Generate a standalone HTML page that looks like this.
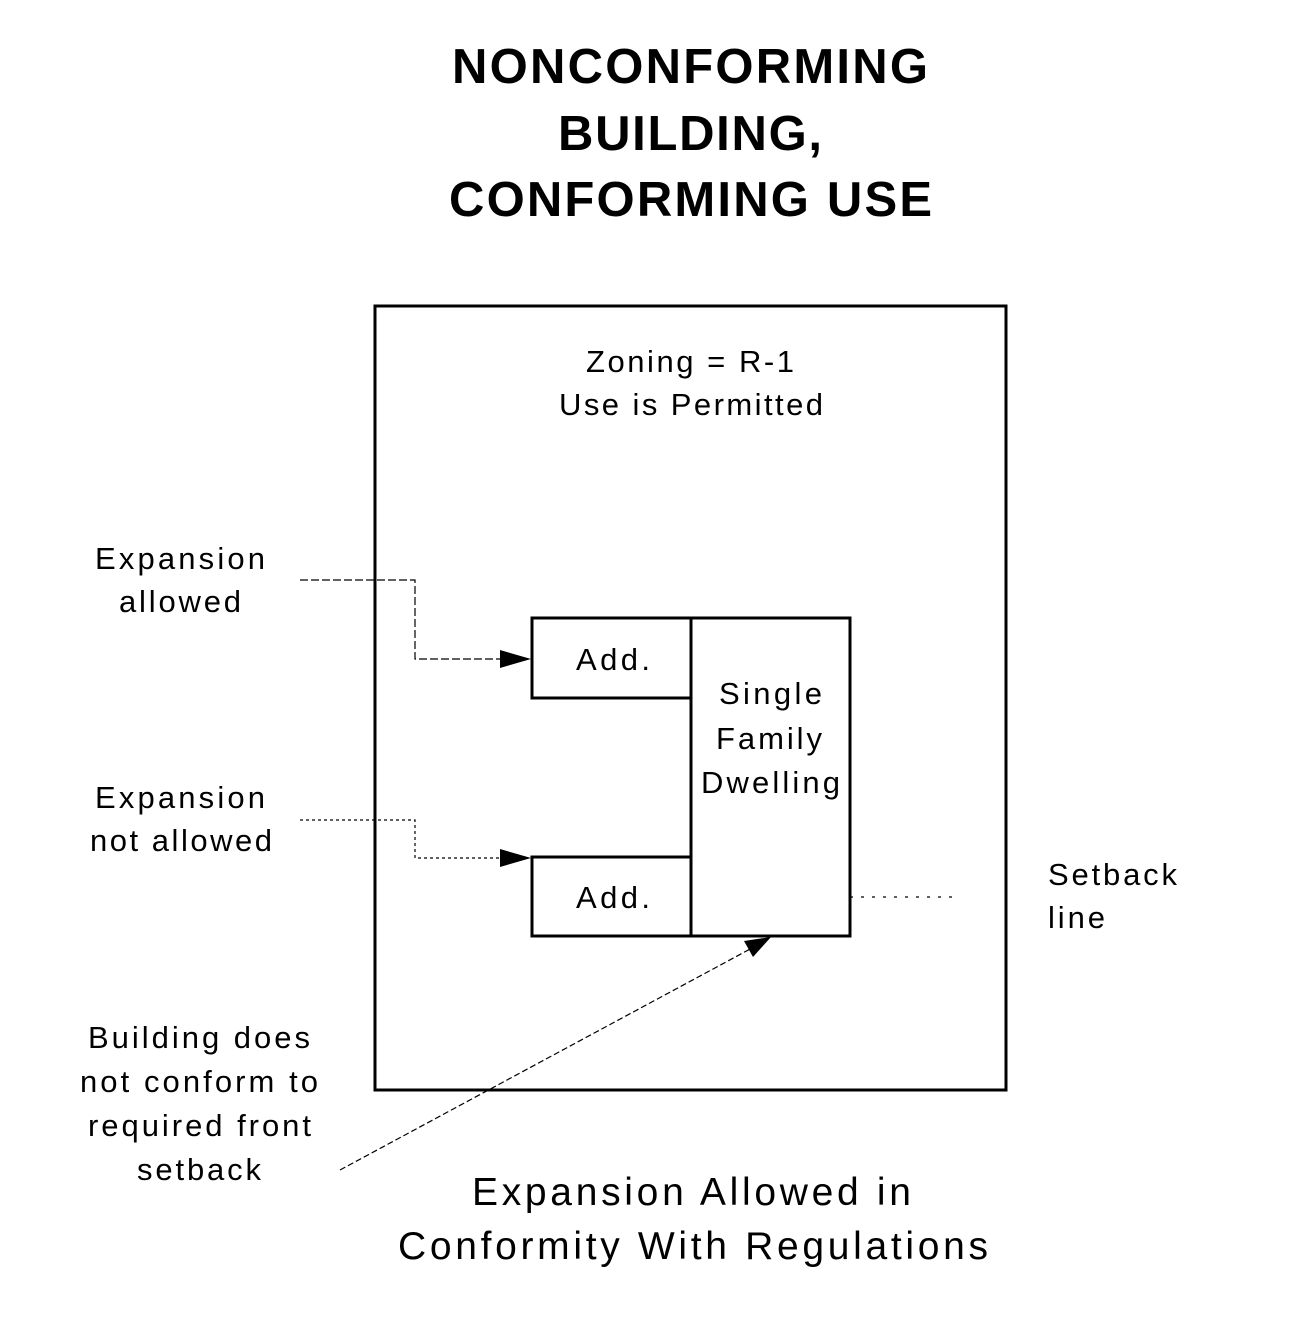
<!DOCTYPE html>
<html><head><style>
html,body{margin:0;padding:0;background:#fff;}
svg{display:block;}
text{font-family:"Liberation Sans",Arial,sans-serif;fill:#000;}
</style></head><body>
<svg width="1314" height="1342" viewBox="0 0 1314 1342" xmlns="http://www.w3.org/2000/svg">
<g font-weight="bold" font-size="49" lengthAdjust="spacingAndGlyphs">
<text x="452" y="83" textLength="476">NONCONFORMING</text>
<text x="558" y="150" textLength="264">BUILDING,</text>
<text x="449" y="216" textLength="483">CONFORMING USE</text>
</g>
<rect x="375" y="306" width="631" height="784" fill="none" stroke="#000" stroke-width="3"/>
<g font-size="31" lengthAdjust="spacingAndGlyphs">
<text x="586" y="372" textLength="208">Zoning = R-1</text>
<text x="559" y="415" textLength="264">Use is Permitted</text>
<text x="95" y="569" textLength="170">Expansion</text>
<text x="119" y="612" textLength="122">allowed</text>
<text x="95" y="808" textLength="170">Expansion</text>
<text x="90" y="851" textLength="182">not allowed</text>
<text x="88" y="1048" textLength="222">Building does</text>
<text x="80" y="1092" textLength="238">not conform to</text>
<text x="88" y="1136" textLength="223">required front</text>
<text x="137" y="1180" textLength="124">setback</text>
<text x="576" y="670" textLength="74">Add.</text>
<text x="576" y="908" textLength="74">Add.</text>
<text x="719" y="704" textLength="103">Single</text>
<text x="716" y="749" textLength="106">Family</text>
<text x="701" y="793" textLength="139">Dwelling</text>
<text x="1048" y="885" textLength="129">Setback</text>
<text x="1048" y="928" textLength="57">line</text>
</g>
<g font-size="39" lengthAdjust="spacingAndGlyphs">
<text x="472" y="1205" textLength="439">Expansion Allowed in</text>
<text x="398" y="1259" textLength="590">Conformity With Regulations</text>
</g>
<g fill="none" stroke="#000" stroke-width="3">
<rect x="532" y="618" width="159" height="80"/>
<rect x="691" y="618" width="159" height="318"/>
<rect x="532" y="857" width="159" height="79"/>
</g>
<g fill="none" stroke="#000" stroke-width="1.2">
<polyline points="300,580 415,580 415,659 505,659" stroke-dasharray="8,3"/>
<polyline points="300,820 415,820 415,858 505,858" stroke-dasharray="3,3"/>
<line x1="850" y1="897" x2="960" y2="897" stroke-dasharray="3,8"/>
<line x1="340" y1="1170" x2="752" y2="948" stroke-dasharray="6,3"/>
</g>
<polygon points="500,650 531,659 500,668" fill="#000"/>
<polygon points="500,849 531,858 500,867" fill="#000"/>
<polygon points="771,937 744,941 753,957" fill="#000"/>
</svg>
</body></html>
